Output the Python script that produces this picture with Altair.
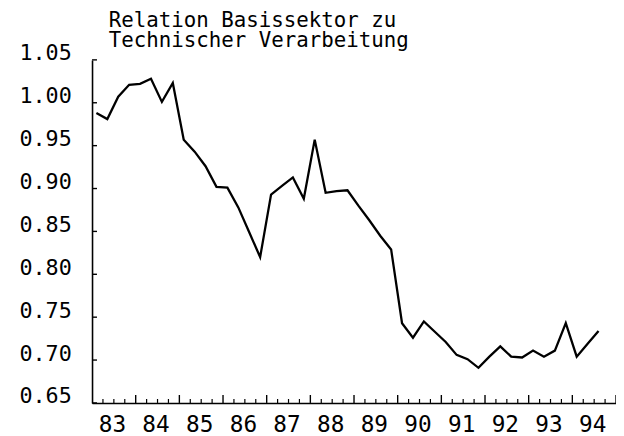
import altair as alt
import pandas as pd

# Quarterly observations 1983 Q1 .. 1994 Q3
quarters = [f"{y}Q{q}" for y in range(1983, 1995) for q in range(1, 5)][:47]
values = [0.988, 0.981, 1.007, 1.021, 1.022, 1.028, 1.001, 1.023,
          0.957, 0.943, 0.926, 0.902, 0.901, 0.878, 0.849, 0.820,
          0.893, 0.903, 0.913, 0.888, 0.957, 0.895, 0.897, 0.898,
          0.880, 0.863, 0.845, 0.829, 0.743, 0.726, 0.745, 0.733,
          0.721, 0.706, 0.701, 0.691, 0.704, 0.716, 0.704, 0.703,
          0.711, 0.704, 0.711, 0.743, 0.704, 0.719, 0.734]
y_ticks = [0.65, 0.70, 0.75, 0.80, 0.85, 0.90, 0.95, 1.00, 1.05]
years = list(range(1983, 1995))
title_lines = ["Relation Basissektor zu", "Technischer Verarbeitung"]

FONT = "DejaVu Sans Mono"

df = pd.DataFrame({
    "q": quarters,
    "t": [int(s[:4]) + (int(s[-1]) - 1) / 4 + 0.1 for s in quarters],
    "v": values,
})
minor_df = pd.DataFrame({"t": [y + k / 4 for y in years for k in (1, 2, 3)]})
major_df = pd.DataFrame({"t": [y for y in years[1:]] + [1995]})
ytick_df = pd.DataFrame({"v": y_ticks})
centers = [y + 0.5 for y in years]

W, H = 530, 347
xs = alt.Scale(domain=[1983, 1995], nice=False, zero=False)
ys = alt.Scale(domain=[0.65, 1.05], nice=False, zero=False)

line = alt.Chart(df).mark_line(color="black", strokeWidth=2.3).encode(
    x=alt.X("t:Q", scale=xs, axis=alt.Axis(
        values=centers, labelExpr="format(floor(datum.value) % 100, '02d')",
        ticks=False, grid=False, title=None, domainColor="black", domainWidth=1.6,
        labelFont=FONT, labelFontSize=23, labelColor="black", labelPadding=29,
        labelBaseline="alphabetic", labelOffset=-2, labelFlush=False)),
    y=alt.Y("v:Q", scale=ys, axis=alt.Axis(
        values=y_ticks, format=".2f", ticks=False, grid=False, title=None,
        domainColor="black", domainWidth=1.6, labelFont=FONT, labelFontSize=22,
        labelColor="black", labelPadding=21, labelBaseline="alphabetic")),
)

minor = alt.Chart(minor_df).mark_rule(color="black", strokeWidth=1.2).encode(
    x=alt.X("t:Q", scale=xs), y=alt.Y(datum=0.65, scale=ys), y2=alt.value(H - 4))
major = alt.Chart(major_df).mark_rule(color="black", strokeWidth=1.4).encode(
    x=alt.X("t:Q", scale=xs), y=alt.Y(datum=0.65, scale=ys), y2=alt.value(H - 8))
yt = alt.Chart(ytick_df).mark_rule(color="black", strokeWidth=1.4).encode(
    y=alt.Y("v:Q", scale=ys), x=alt.X(datum=1983, scale=xs), x2=alt.value(5))

chart = alt.layer(line, minor, major, yt).properties(
    width=W, height=H,
    title=alt.TitleParams(title_lines, anchor="start", frame="group", dx=17, dy=38,
                          font=FONT, fontSize=21, fontWeight="normal", color="black",
                          lineHeight=20, baseline="alphabetic", offset=12),
    padding={"left": 85, "top": 50, "right": 0, "bottom": 34},
    autosize="none",
    background="white",
).configure_view(stroke=None)

chart.save("out.html", embed_options={"renderer": "svg", "actions": False})
